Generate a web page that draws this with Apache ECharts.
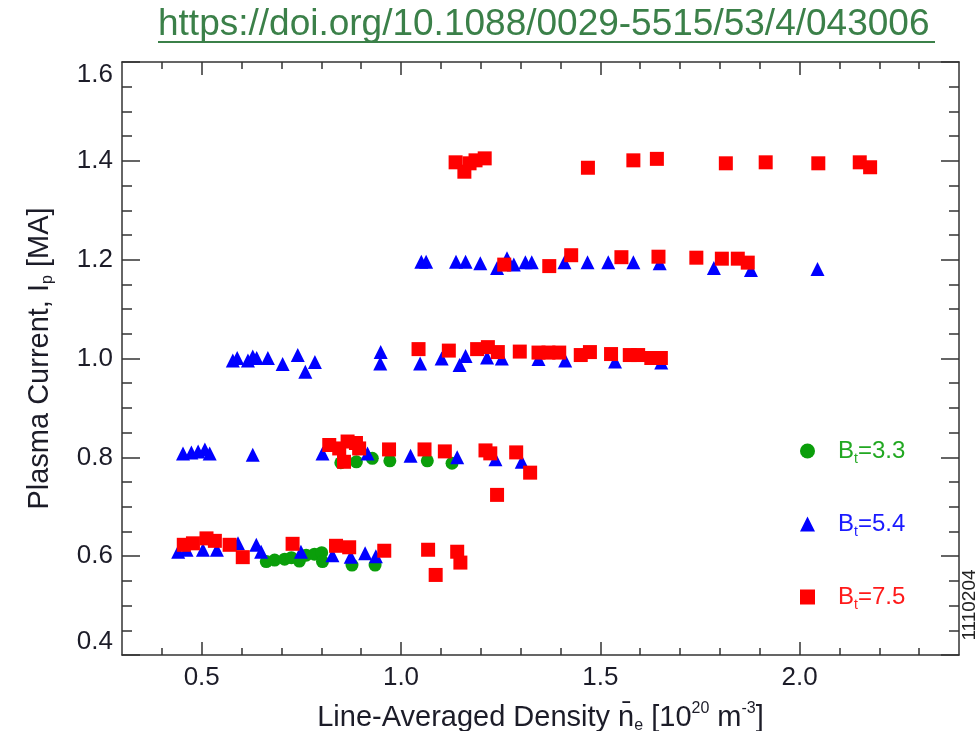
<!DOCTYPE html>
<html>
<head>
<meta charset="utf-8">
<title>Plasma current vs line-averaged density</title>
<script src="https://cdn.jsdelivr.net/npm/echarts@6/dist/echarts.min.js"></script>
<style>
  html, body { margin: 0; padding: 0; background: #fff; }
  #chart { width: 978px; height: 731px; }
</style>
</head>
<body>
<div id="chart"></div>
<script>
// Bt = 3.3 (green circles)
var densityBt33 = [0.849, 0.888, 0.928, 0.972, 1.066, 1.128,
  0.662, 0.683, 0.708, 0.725, 0.745, 0.762, 0.783, 0.801, 0.803, 0.877, 0.935]
var currentBt33 = [0.789, 0.791, 0.798, 0.793, 0.793, 0.788,
  0.589, 0.592, 0.594, 0.597, 0.590, 0.602, 0.604, 0.607, 0.589, 0.582, 0.582]

// Bt = 5.4 (blue triangles)
var densityBt54 = [1.051, 1.063, 1.138, 1.162, 1.199, 1.241, 1.266, 1.283, 1.312, 1.328, 1.410, 1.468, 1.520, 1.583, 1.649, 1.785, 1.878, 2.045,
  0.578, 0.589, 0.616, 0.628, 0.638, 0.666, 0.703, 0.741, 0.760, 0.784, 0.949, 0.948, 1.048, 1.102, 1.147, 1.162, 1.216, 1.253, 1.345, 1.412, 1.537, 1.653,
  0.453, 0.474, 0.491, 0.508, 0.520, 0.628, 0.803, 0.916, 1.024, 1.141, 1.237, 1.303,
  0.441, 0.462, 0.503, 0.538, 0.591, 0.637, 0.649, 0.749, 0.828, 0.874, 0.910, 0.937]
var currentBt54 = [1.196, 1.196, 1.196, 1.196, 1.193, 1.183, 1.203, 1.190, 1.195, 1.195, 1.195, 1.195, 1.195, 1.195, 1.193, 1.183, 1.179, 1.181,
  0.996, 1.001, 0.996, 1.004, 1.001, 1.001, 0.989, 1.007, 0.973, 0.993, 1.013, 0.990, 0.990, 1.000, 0.987, 1.005, 1.002, 1.000, 0.999, 0.996, 0.994, 0.992,
  0.808, 0.810, 0.812, 0.816, 0.808, 0.805, 0.808, 0.808, 0.803, 0.800, 0.796, 0.791,
  0.609, 0.613, 0.613, 0.613, 0.626, 0.623, 0.609, 0.609, 0.602, 0.599, 0.606, 0.600]

// Bt = 7.5 (red squares)
var densityBt75 = [1.137, 1.159, 1.172, 1.187, 1.210, 1.469, 1.583, 1.642, 1.815, 1.915, 2.047, 2.151, 2.177,
  1.259, 1.372, 1.427, 1.553, 1.646, 1.741, 1.805, 1.845, 1.870,
  1.044, 1.120, 1.191, 1.218, 1.243, 1.298, 1.345, 1.370, 1.397, 1.451, 1.474, 1.527, 1.574, 1.595, 1.628, 1.652,
  0.820, 0.845, 0.866, 0.887, 0.857, 0.895, 0.970, 1.059, 1.110, 1.212, 1.224, 1.289, 1.324, 1.241,
  0.455, 0.478, 0.512, 0.533, 0.570, 0.603, 0.728, 0.837, 0.870, 0.958, 1.068, 1.087, 1.141, 1.149]
var currentBt75 = [1.397, 1.378, 1.395, 1.401, 1.405, 1.386, 1.401, 1.404, 1.395, 1.397, 1.395, 1.397, 1.387,
  1.190, 1.187, 1.209, 1.205, 1.206, 1.204, 1.202, 1.202, 1.194,
  1.019, 1.016, 1.019, 1.023, 1.013, 1.014, 1.012, 1.012, 1.012, 1.007, 1.013, 1.009, 1.007, 1.007, 1.001, 1.001,
  0.825, 0.818, 0.832, 0.829, 0.791, 0.818, 0.816, 0.816, 0.812, 0.814, 0.808, 0.810, 0.769, 0.724,
  0.623, 0.626, 0.636, 0.631, 0.623, 0.598, 0.625, 0.621, 0.618, 0.611, 0.613, 0.562, 0.609, 0.587]

var xMajorTicks = [0.5, 1.0, 1.5, 2.0]
var xMinorTicks = [0.4, 0.6, 0.7, 0.8, 0.9, 1.1, 1.2, 1.3, 1.4, 1.6, 1.7, 1.8, 1.9, 2.1, 2.2, 2.3]
var yMajorTicks = [0.4, 0.6, 0.8, 1.0, 1.2, 1.4, 1.6]
var yMinorTicks = [0.45, 0.5, 0.55, 0.65, 0.7, 0.75, 0.85, 0.9, 0.95, 1.05, 1.1, 1.15,
  1.25, 1.3, 1.35, 1.45, 1.5, 1.55]

var FONT = "'Liberation Sans', Arial, Helvetica, sans-serif"
var AXIS_COLOR = '#333'
var LABEL_COLOR = '#1c1c28'

function zip(xs, ys) {
  var out = []
  for (var i = 0; i < xs.length; i++) {
    out.push([xs[i], ys[i]])
  }
  return out
}

// one axis definition, only ticks / line / labels differ
function axis(opts) {
  var a = {
    type: 'value',
    gridIndex: opts.grid,
    position: opts.position,
    min: opts.min,
    max: opts.max,
    splitLine: { show: false },
    axisLine: { show: !!opts.line, onZero: false, lineStyle: { color: AXIS_COLOR, width: 1.5 } },
    axisTick: {
      show: true,
      inside: true,
      length: opts.tickLength,
      customValues: opts.ticks,
      lineStyle: { color: AXIS_COLOR, width: 1.5 }
    },
    axisLabel: { show: false }
  }
  return a
}

var chart = echarts.init(document.getElementById('chart'))

var richName = {
  a: { fontSize: 29, lineHeight: 33, fontFamily: FONT, color: LABEL_COLOR },
  sub: { fontSize: 16, lineHeight: 16, verticalAlign: 'bottom', fontFamily: FONT, color: LABEL_COLOR },
  sup: { fontSize: 16, lineHeight: 16, verticalAlign: 'top', fontFamily: FONT, color: LABEL_COLOR }
}

var xMain = axis({ grid: 0, position: 'bottom', min: 0.3, max: 2.4, line: true, tickLength: 13, ticks: xMajorTicks })
xMain.axisLabel = {
  show: true,
  customValues: xMajorTicks,
  formatter: function (v) { return v.toFixed(1) },
  fontSize: 26,
  fontFamily: FONT,
  color: LABEL_COLOR,
  margin: 10
}
xMain.name = '{a|Line-Averaged Density n\u0304}{sub|e}{a| [10}{sup|20}{a| m}{sup|-3}{a|]}'
xMain.nameLocation = 'middle'
xMain.nameGap = 46
xMain.nameTextStyle = { rich: richName }

var yMain = axis({ grid: 0, position: 'left', min: 0.4, max: 1.6, line: true, tickLength: 18, ticks: yMajorTicks })
yMain.axisLabel = {
  show: true,
  customValues: yMajorTicks,
  formatter: function (v) { return v.toFixed(1) },
  fontSize: 26,
  fontFamily: FONT,
  color: LABEL_COLOR,
  margin: 9,
  verticalAlignMinLabel: 'bottom',
  verticalAlignMaxLabel: 'top'
}
yMain.name = '{a|Plasma Current, I}{sub|p}{a| [MA]}'
yMain.nameLocation = 'middle'
yMain.nameGap = 66
yMain.nameTextStyle = { rich: richName }

chart.setOption({
  animation: false,
  backgroundColor: '#fff',
  title: {
    text: 'https://doi.org/10.1088/0029-5515/53/4/043006',
    left: 158,
    top: 6,
    padding: 0,
    textStyle: { fontSize: 37, fontWeight: 'normal', color: '#3b8049', fontFamily: FONT }
  },
  grid: [
    { left: 122, right: 19, top: 62, bottom: 76, containLabel: false, outerBoundsMode: 'none' },
    { left: 122, right: 19, top: 62, bottom: 76, containLabel: false, outerBoundsMode: 'none' }
  ],
  xAxis: [
    xMain,
    axis({ grid: 0, position: 'top', min: 0.3, max: 2.4, line: true, tickLength: 13, ticks: xMajorTicks }),
    axis({ grid: 1, position: 'bottom', min: 0.3, max: 2.4, line: false, tickLength: 7, ticks: xMinorTicks }),
    axis({ grid: 1, position: 'top', min: 0.3, max: 2.4, line: false, tickLength: 7, ticks: xMinorTicks })
  ],
  yAxis: [
    yMain,
    axis({ grid: 0, position: 'right', min: 0.4, max: 1.6, line: true, tickLength: 18, ticks: yMajorTicks }),
    axis({ grid: 1, position: 'left', min: 0.4, max: 1.6, line: false, tickLength: 10, ticks: yMinorTicks }),
    axis({ grid: 1, position: 'right', min: 0.4, max: 1.6, line: false, tickLength: 10, ticks: yMinorTicks })
  ],
  legend: {
    orient: 'vertical',
    left: 800,
    top: 439,
    padding: 0,
    itemGap: 46,
    itemWidth: 15,
    itemHeight: 15,
    data: [
      { name: 'Bt=3.3', textStyle: { color: '#22a822' } },
      { name: 'Bt=5.4', textStyle: { color: '#1a1aff' } },
      { name: 'Bt=7.5', textStyle: { color: '#ff1a1a' } }
    ],
    formatter: function (name) {
      return '{b|B}{s|t}{b|' + name.slice(2) + '}'
    },
    textStyle: {
      padding: [0, 0, 0, 18],
      rich: {
        b: { fontSize: 24, lineHeight: 30, fontFamily: FONT },
        s: { fontSize: 14, lineHeight: 14, verticalAlign: 'bottom', fontFamily: FONT }
      }
    }
  },
  graphic: [
    {
      type: 'line',
      shape: { x1: 158, y1: 42, x2: 935, y2: 42 },
      style: { stroke: '#3b8049', lineWidth: 2 }
    },
    {
      type: 'text',
      x: 970,
      y: 605,
      rotation: Math.PI / 2,
      style: {
        text: '1110204',
        fontSize: 19,
        fontFamily: FONT,
        fill: '#222',
        align: 'center',
        verticalAlign: 'middle'
      }
    }
  ],
  series: [
    {
      name: 'Bt=3.3',
      type: 'scatter',
      xAxisIndex: 0,
      yAxisIndex: 0,
      symbol: 'circle',
      symbolSize: 13,
      itemStyle: { color: '#0a9e0a', opacity: 1 },
      data: zip(densityBt33, currentBt33)
    },
    {
      name: 'Bt=5.4',
      type: 'scatter',
      xAxisIndex: 0,
      yAxisIndex: 0,
      symbol: 'triangle',
      symbolSize: 14,
      itemStyle: { color: '#0000ff', opacity: 1 },
      data: zip(densityBt54, currentBt54)
    },
    {
      name: 'Bt=7.5',
      type: 'scatter',
      xAxisIndex: 0,
      yAxisIndex: 0,
      symbol: 'rect',
      symbolSize: 14,
      itemStyle: { color: '#ff0000', opacity: 1 },
      data: zip(densityBt75, currentBt75)
    }
  ]
})
</script>
</body>
</html>
